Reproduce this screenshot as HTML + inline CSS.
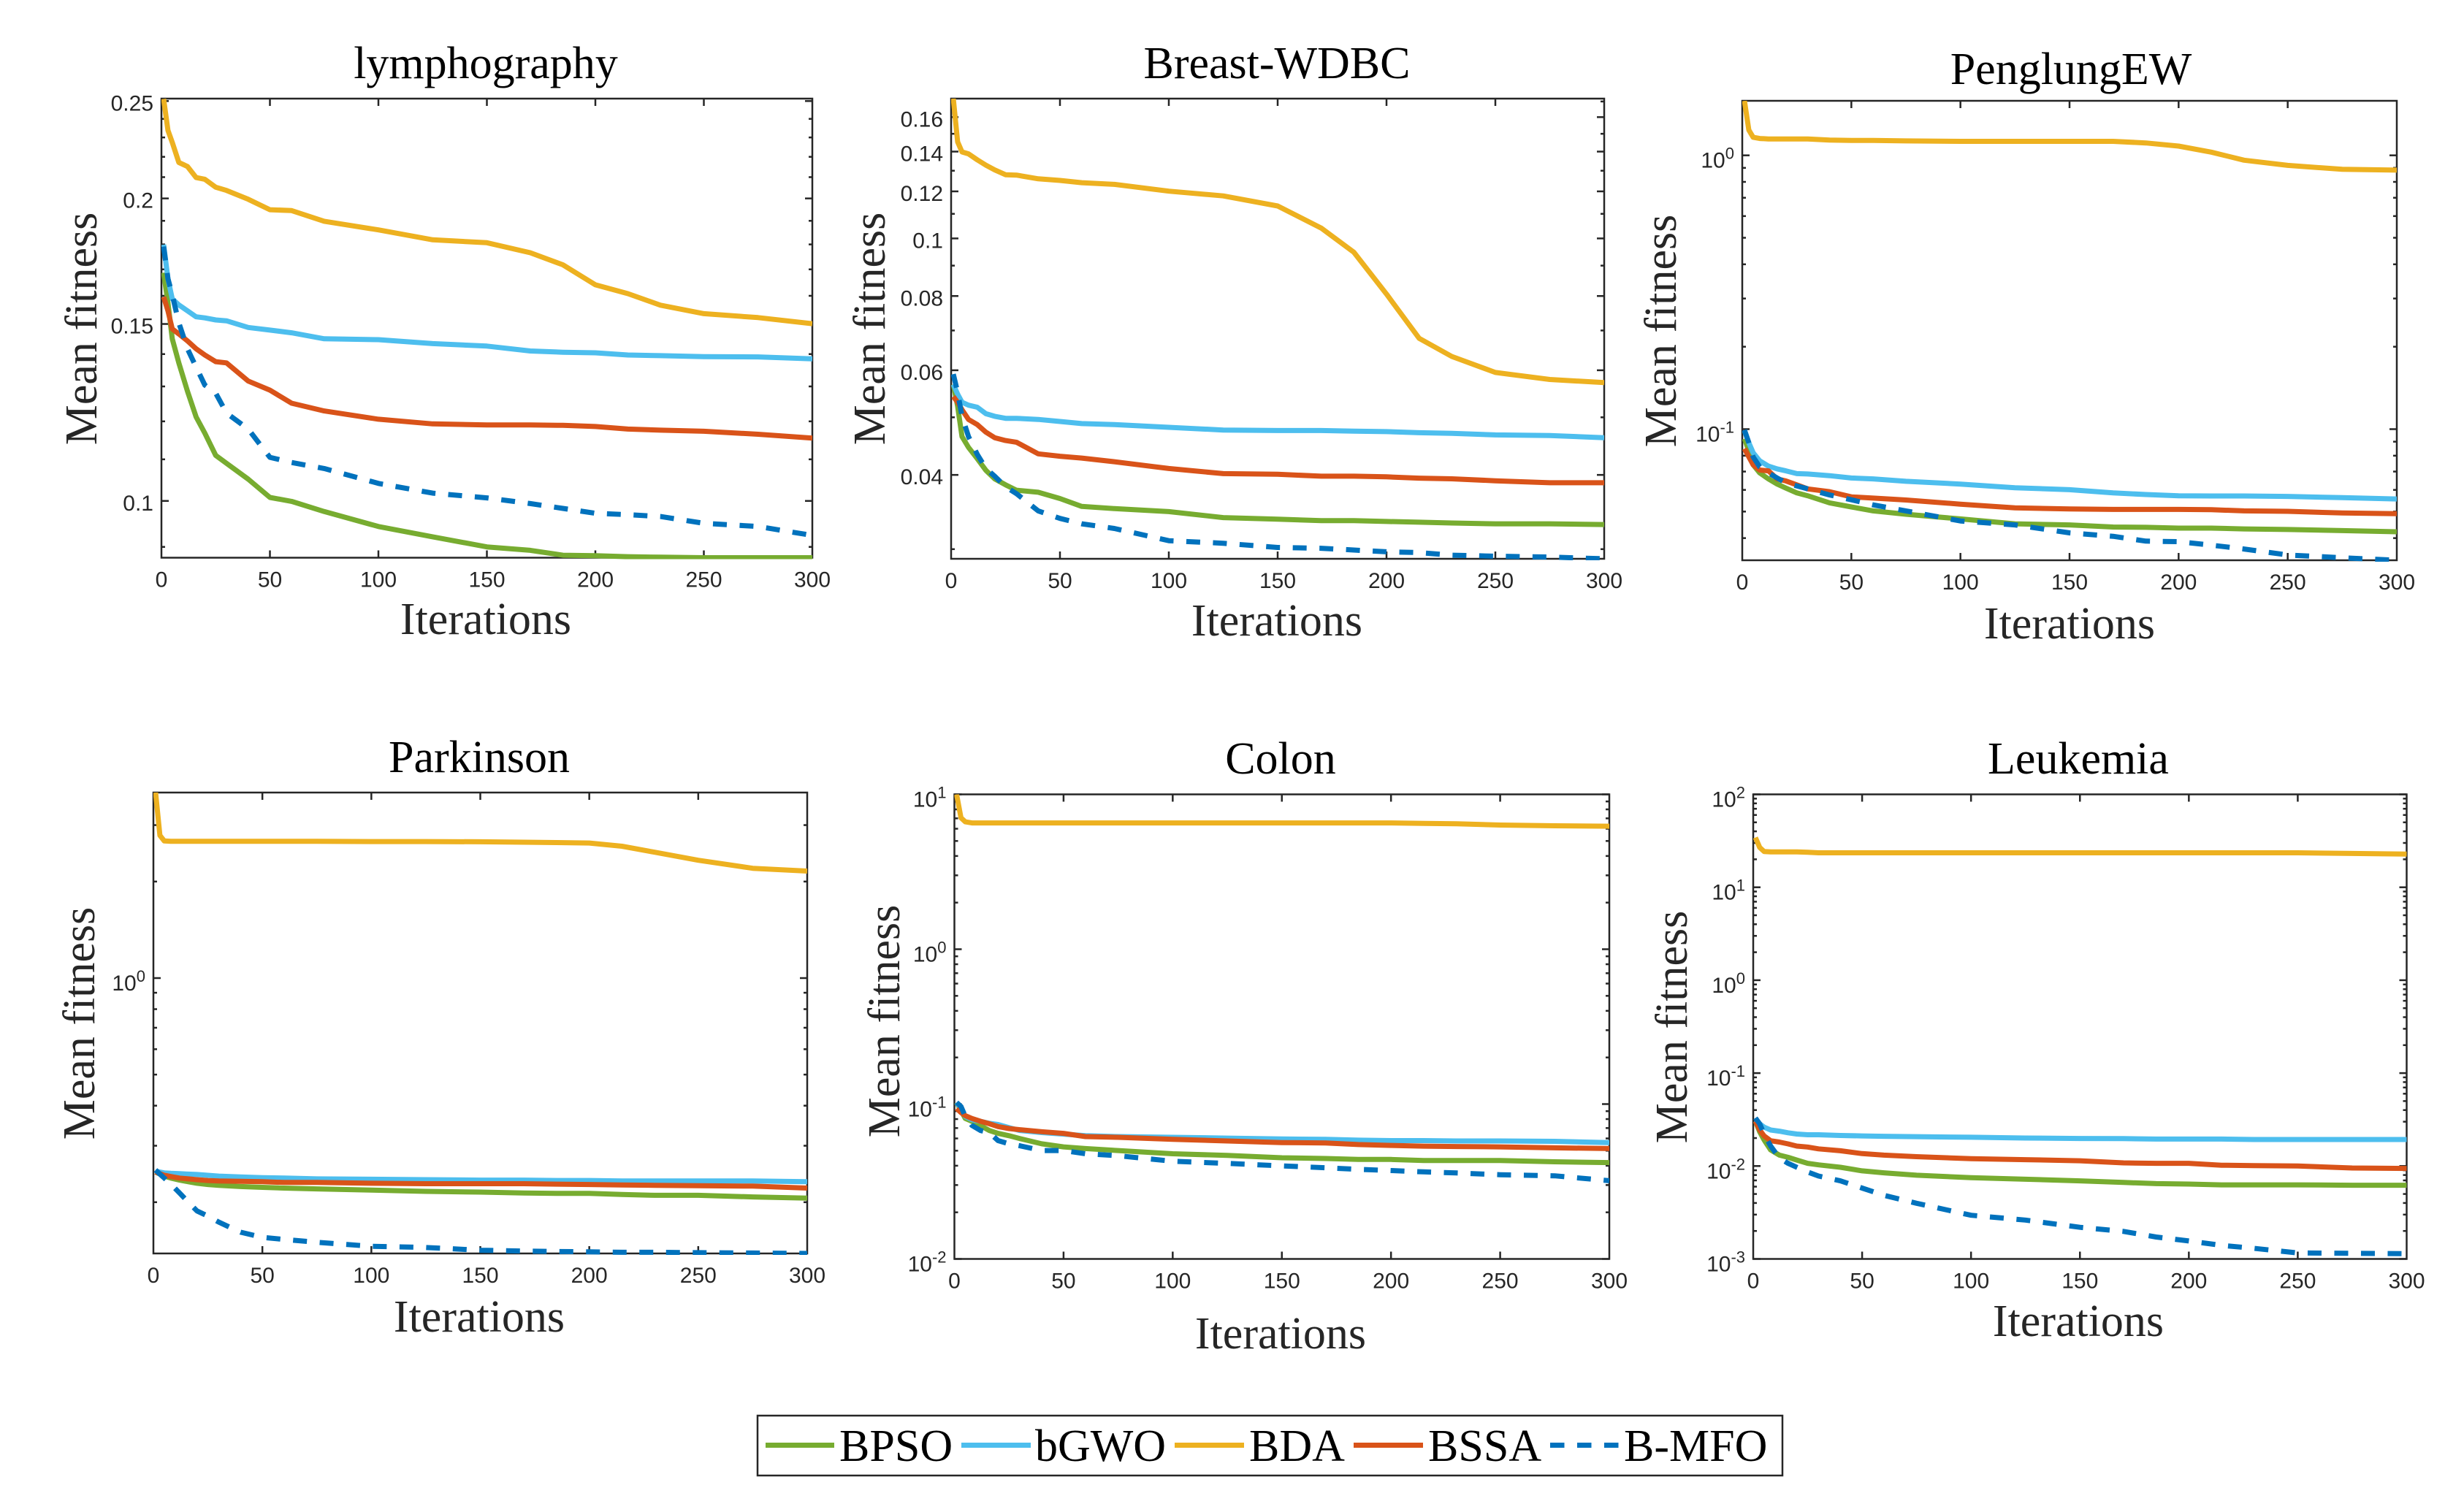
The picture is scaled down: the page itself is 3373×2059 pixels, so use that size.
<!DOCTYPE html>
<html lang="en">
<head>
<meta charset="utf-8">
<title>Mean fitness convergence curves</title>
<style>
html,body{margin:0;padding:0;background:#fff;}
svg{display:block;}
.ttl{font-family:"Liberation Serif",serif;font-size:62px;fill:#000;text-anchor:middle;}
.xl{font-family:"Liberation Serif",serif;font-size:62px;fill:#262626;text-anchor:middle;}
.yl{font-family:"Liberation Serif",serif;font-size:62px;fill:#262626;text-anchor:middle;}
.tk{font-family:"Liberation Sans",sans-serif;font-size:30px;fill:#262626;}
.lg{font-family:"Liberation Serif",serif;font-size:62px;fill:#000;}
</style>
</head>
<body>
<svg id="fig" xmlns="http://www.w3.org/2000/svg" width="3373" height="2059" viewBox="0 0 3373 2059">
<rect x="0" y="0" width="3373" height="2059" fill="#fff"/>

<g id="p-lymph">
<text class="ttl" x="665" y="107">lymphography</text>
<text class="xl" x="665" y="868">Iterations</text>
<text class="yl" transform="translate(132,450) rotate(-90)">Mean fitness</text>
</g>
<g id="p-wdbc">
<text class="ttl" x="1748" y="107">Breast-WDBC</text>
<text class="xl" x="1748" y="870">Iterations</text>
<text class="yl" transform="translate(1211,450) rotate(-90)">Mean fitness</text>
</g>
<g id="p-peng">
<text class="ttl" x="2835" y="115">PenglungEW</text>
<text class="xl" x="2833" y="874">Iterations</text>
<text class="yl" transform="translate(2294,453) rotate(-90)">Mean fitness</text>
</g>
<g id="p-park">
<text class="ttl" x="656" y="1057">Parkinson</text>
<text class="xl" x="656" y="1823">Iterations</text>
<text class="yl" transform="translate(129,1401) rotate(-90)">Mean fitness</text>
</g>
<g id="p-colon">
<text class="ttl" x="1753" y="1059">Colon</text>
<text class="xl" x="1753" y="1846">Iterations</text>
<text class="yl" transform="translate(1231,1398) rotate(-90)">Mean fitness</text>
</g>
<g id="p-leuk">
<text class="ttl" x="2845" y="1059">Leukemia</text>
<text class="xl" x="2845" y="1829">Iterations</text>
<text class="yl" transform="translate(2309,1406) rotate(-90)">Mean fitness</text>
</g>

<g id="legend">
<rect x="1037" y="1938" width="1403" height="82" fill="#fff" stroke="#262626" stroke-width="2.5"/>
<g>
<line x1="1048" x2="1142" y1="1978.5" y2="1978.5" stroke="#77AC30" stroke-width="7"/>
<text class="lg" x="1149" y="2000">BPSO</text>
</g>
<g>
<line x1="1316" x2="1411" y1="1978.5" y2="1978.5" stroke="#4DBEEE" stroke-width="7"/>
<text class="lg" x="1417" y="2000">bGWO</text>
</g>
<g>
<line x1="1608" x2="1703" y1="1978.5" y2="1978.5" stroke="#EDB120" stroke-width="7"/>
<text class="lg" x="1710" y="2000">BDA</text>
</g>
<g>
<line x1="1853" x2="1948" y1="1978.5" y2="1978.5" stroke="#D95319" stroke-width="7"/>
<text class="lg" x="1955" y="2000">BSSA</text>
</g>
<g>
<line x1="2122" x2="2216" y1="1978.5" y2="1978.5" stroke="#0072BD" stroke-width="7" stroke-dasharray="19.5 17.5"/>
<text class="lg" x="2223" y="2000">B-MFO</text>
</g>
</g>
</svg>

<script>
// ---------- shared data ----------
const iterations = [1,3,5,8,12,16,20,25,30,40,50,60,75,100,125,150,170,185,200,215,230,250,275,300];
const xTickValues = [0,50,100,150,200,250,300];
const xTickLabels = ['0','50','100','150','200','250','300'];

// ---------- lymphography ----------
const lymphBPSO = [.1687,.1575,.1450,.1372,.1286,.1212,.1168,.1110,.1090,.1051,.1008,.0999,.0976,.0943,.0921,.0900,.0893,.0883,.0882,.0880,.0879,.0878,.0878,.0878];
const lymphBGWO = [.1799,.1664,.1589,.1567,.1546,.1525,.1521,.1514,.1511,.1488,.1479,.1470,.1450,.1447,.1434,.1426,.1410,.1406,.1404,.1397,.1395,.1392,.1391,.1385];
const lymphBDA = [.2512,.2338,.2274,.2172,.2152,.2098,.2090,.2052,.2037,.1996,.1949,.1945,.1898,.1861,.1819,.1807,.1766,.1718,.1641,.1608,.1566,.1536,.1522,.1501];
const lymphBSSA = [.1596,.1546,.1483,.1466,.1443,.1417,.1397,.1376,.1372,.1316,.1289,.1251,.1229,.1206,.1193,.1190,.1190,.1189,.1186,.1179,.1176,.1173,.1165,.1155];
const lymphBMFO = [.1791,.1664,.1604,.1504,.1417,.1359,.1304,.1280,.1223,.1179,.1105,.1092,.1077,.1041,.1018,.1007,.0994,.0983,.0972,.0969,.0965,.0950,.0943,.0924];
const lymphTicks = [.1,.15,.2,.25];
const lymphTickLabels = ['0.1','0.15','0.2','0.25'];
const lymphMinor = [.09,.11,.12,.13,.14,.16,.17,.18,.19,.21,.22,.23,.24];
const lymphRange = [.0878,.2514];

// ---------- Breast-WDBC ----------
const wdbcBPSO = [.0568,.0522,.0464,.0445,.0426,.0407,.0394,.0385,.0377,.0374,.0365,.0354,.0351,.0347,.0339,.0337,.0335,.0335,.0334,.0333,.0332,.0331,.0331,.0330];
const wdbcBGWO = [.0568,.0547,.0530,.0524,.0520,.0507,.0502,.0498,.0498,.0496,.0492,.0488,.0486,.0481,.0476,.0475,.0475,.0474,.0473,.0471,.0470,.0467,.0466,.0462];
const wdbcBDA = [.1719,.1454,.1398,.1388,.1356,.1328,.1304,.1280,.1278,.1260,.1252,.1241,.1233,.1201,.1179,.1134,.1041,.0948,.0806,.0679,.0633,.0595,.0579,.0572];
const wdbcBSSA = [.0542,.0530,.0515,.0496,.0486,.0472,.0462,.0457,.0454,.0434,.0430,.0427,.0421,.0410,.0402,.0401,.0398,.0398,.0397,.0395,.0394,.0391,.0388,.0388];
const wdbcBMFO = [.0591,.0551,.0502,.0464,.0433,.0410,.0398,.0382,.0372,.0348,.0338,.0331,.0325,.0310,.0307,.0302,.0301,.0299,.0297,.0296,.0293,.0292,.0291,.0289];
const wdbcTicks = [.04,.06,.08,.1,.12,.14,.16];
const wdbcTickLabels = ['0.04','0.06','0.08','0.1','0.12','0.14','0.16'];
const wdbcMinor = [.03,.05,.07,.09,.11,.13,.15,.17];
const wdbcRange = [.0289,.1719];

// ---------- PenglungEW ----------
const pengBPSO = [.0922,.0834,.0741,.0692,.0658,.0630,.0609,.0585,.0571,.0538,.0520,.0503,.0489,.0470,.0451,.0447,.0439,.0438,.0435,.0435,.0432,.0430,.0426,.0422];
const pengBGWO = [.0987,.0892,.0820,.0766,.0733,.0716,.0704,.0688,.0686,.0676,.0663,.0658,.0645,.0630,.0611,.0601,.0585,.0577,.0571,.0570,.0570,.0568,.0562,.0556];
const pengBDA = [1.582,1.237,1.164,1.152,1.148,1.148,1.148,1.148,1.148,1.137,1.133,1.133,1.129,1.125,1.125,1.125,1.125,1.110,1.081,1.027,.960,.919,.889,.883];
const pengBSSA = [.0848,.0792,.0741,.0709,.0704,.0658,.0647,.0626,.0605,.0591,.0566,.0560,.0551,.0532,.0516,.0511,.0509,.0509,.0509,.0508,.0503,.0501,.0494,.0491];
const pengBMFO = [.0993,.0892,.0792,.0728,.0692,.0663,.0637,.0620,.0605,.0575,.0552,.0529,.0503,.0462,.0447,.0418,.0406,.0390,.0388,.0377,.0365,.0347,.0339,.0332];
const pengTicks = [.1,1];
const pengTickLabels = ['10^-1','10^0'];
const pengMinor = [.04,.05,.06,.07,.08,.09,.2,.3,.4,.5,.6,.7,.8,.9];
const pengRange = [.0332,1.582];

// ---------- Parkinson ----------
const parkBPSO = [.2483,.2447,.2412,.2378,.2344,.2317,.2291,.2271,.2258,.2238,.2225,.2213,.2200,.2181,.2162,.2150,.2137,.2131,.2131,.2113,.2101,.2101,.2077,.2059];
const parkBGWO = [.2497,.2483,.2469,.2461,.2454,.2447,.2440,.2426,.2412,.2398,.2385,.2378,.2365,.2358,.2351,.2344,.2344,.2337,.2337,.2330,.2330,.2330,.2330,.2317];
const parkBDA = [3.79,2.786,2.676,2.669,2.669,2.669,2.669,2.669,2.669,2.669,2.669,2.669,2.669,2.665,2.665,2.661,2.653,2.646,2.638,2.578,2.469,2.331,2.200,2.157];
const parkBSSA = [.2483,.2454,.2426,.2405,.2378,.2365,.2351,.2337,.2330,.2324,.2317,.2304,.2304,.2291,.2284,.2284,.2284,.2277,.2271,.2264,.2258,.2251,.2245,.2213];
const parkBMFO = [.2519,.2447,.2378,.2277,.2137,.2001,.1878,.1809,.1733,.1612,.1553,.1531,.1500,.1457,.1445,.1416,.1408,.1404,.1400,.1396,.1396,.1392,.1388,.1384];
const parkTicks = [1];
const parkTickLabels = ['10^0'];
const parkMinor = [.2,.3,.4,.5,.6,.7,.8,.9,2,3];
const parkRange = [.1384,3.79];

// ---------- Colon ----------
const colonBPSO = [.1024,.0909,.0807,.0774,.0725,.0675,.0647,.0625,.0599,.0554,.0529,.0516,.0501,.0478,.0466,.0450,.0445,.0439,.0439,.0432,.0432,.0432,.0424,.0419];
const colonBGWO = [.1024,.0936,.0831,.0793,.0774,.0751,.0738,.0704,.0675,.0655,.0640,.0625,.0617,.0610,.0603,.0595,.0592,.0585,.0581,.0581,.0578,.0578,.0575,.0564];
const colonBDA = [10,7.06,6.65,6.54,6.54,6.54,6.54,6.54,6.54,6.54,6.54,6.54,6.54,6.54,6.54,6.54,6.54,6.54,6.54,6.50,6.46,6.34,6.27,6.23];
const colonBSSA = [.0936,.0882,.0841,.0807,.0774,.0747,.0716,.0695,.0683,.0663,.0647,.0617,.0610,.0592,.0578,.0564,.0561,.0548,.0541,.0535,.0532,.0529,.0522,.0516];
const colonBMFO = [.1024,.0965,.0831,.0729,.0675,.0655,.0581,.0554,.0538,.0501,.0501,.0478,.0464,.0427,.0414,.0399,.0388,.0379,.0372,.0365,.0359,.0350,.0344,.0320];
const colonTicks = [.01,.1,1,10];
const colonTickLabels = ['10^-2','10^-1','10^0','10^1'];
const colonMinor = [.02,.03,.04,.05,.06,.07,.08,.09,.2,.3,.4,.5,.6,.7,.8,.9,2,3,4,5,6,7,8,9];
const colonRange = [.01,10];

// ---------- Leukemia ----------
const leukBPSO = [.0304,.0233,.0191,.0149,.0131,.0124,.0116,.0107,.0103,.0097,.00888,.00845,.00796,.00750,.00721,.00693,.00665,.00646,.00640,.00627,.00627,.00627,.00621,.00621];
const leukBGWO = [.0313,.0284,.0262,.0244,.0237,.0228,.0221,.0217,.0217,.0213,.0211,.0209,.0207,.0204,.0200,.0198,.0197,.0195,.0195,.0195,.0193,.0193,.0193,.0193];
const leukBDA = [34.3,26.8,24.3,24.0,24.0,24.0,24.0,23.8,23.5,23.5,23.5,23.5,23.5,23.5,23.5,23.5,23.5,23.5,23.5,23.5,23.5,23.5,23.1,22.8];
const leukBSSA = [.0304,.0244,.0211,.0187,.0181,.0173,.0164,.0160,.0153,.0146,.0136,.0131,.0126,.0120,.0117,.0114,.0108,.0107,.0107,.0102,.0101,.0100,.00952,.00942];
const leukBMFO = [.0329,.0284,.0221,.0164,.0122,.0107,.0097,.00862,.00780,.00693,.00579,.00484,.00397,.00295,.00262,.00219,.00198,.00172,.00156,.00140,.00130,.00116,.00115,.00114];
const leukTicks = [.001,.01,.1,1,10,100];
const leukTickLabels = ['10^-3','10^-2','10^-1','10^0','10^1','10^2'];
const leukMinor = [.002,.003,.004,.005,.006,.007,.008,.009,.02,.03,.04,.05,.06,.07,.08,.09,.2,.3,.4,.5,.6,.7,.8,.9,2,3,4,5,6,7,8,9,20,30,40,50,60,70,80,90];
const leukRange = [.001,100];

// ---------- rendering ----------
const SVGNS = 'http://www.w3.org/2000/svg';
const INK = '#262626';
const styles = {
  bpso: {color:'#77AC30', dash:null},
  bgwo: {color:'#4DBEEE', dash:null},
  bda:  {color:'#EDB120', dash:null},
  bssa: {color:'#D95319', dash:null},
  bmfo: {color:'#0072BD', dash:'19 17.5'}
};
const panels = [
  {id:'p-lymph', key:'lymphography', l:221, t:135, r:1112, b:763.5,  range:lymphRange, ticks:lymphTicks, labels:lymphTickLabels, minor:lymphMinor,
   series:{bpso:lymphBPSO,bgwo:lymphBGWO,bda:lymphBDA,bssa:lymphBSSA,bmfo:lymphBMFO}},
  {id:'p-wdbc', key:'breast-wdbc', l:1302, t:135, r:2196, b:765, range:wdbcRange, ticks:wdbcTicks, labels:wdbcTickLabels, minor:wdbcMinor,
   series:{bpso:wdbcBPSO,bgwo:wdbcBGWO,bda:wdbcBDA,bssa:wdbcBSSA,bmfo:wdbcBMFO}},
  {id:'p-peng', key:'penglungew', l:2385, t:138, r:3281, b:767, range:pengRange, ticks:pengTicks, labels:pengTickLabels, minor:pengMinor,
   series:{bpso:pengBPSO,bgwo:pengBGWO,bda:pengBDA,bssa:pengBSSA,bmfo:pengBMFO}},
  {id:'p-park', key:'parkinson', l:210, t:1085, r:1105, b:1716, range:parkRange, ticks:parkTicks, labels:parkTickLabels, minor:parkMinor,
   series:{bpso:parkBPSO,bgwo:parkBGWO,bda:parkBDA,bssa:parkBSSA,bmfo:parkBMFO}},
  {id:'p-colon', key:'colon', l:1306.5, t:1087.5, r:2203, b:1723.5, range:colonRange, ticks:colonTicks, labels:colonTickLabels, minor:colonMinor,
   series:{bpso:colonBPSO,bgwo:colonBGWO,bda:colonBDA,bssa:colonBSSA,bmfo:colonBMFO}},
  {id:'p-leuk', key:'leukemia', l:2400, t:1087.5, r:3294.5, b:1723.5, range:leukRange, ticks:leukTicks, labels:leukTickLabels, minor:leukMinor,
   series:{bpso:leukBPSO,bgwo:leukBGWO,bda:leukBDA,bssa:leukBSSA,bmfo:leukBMFO}}
];

function make(tag, attrs, parent){
  const el = document.createElementNS(SVGNS, tag);
  for (const k in attrs) el.setAttribute(k, attrs[k]);
  parent.appendChild(el);
  return el;
}

panels.forEach(function(p){
  const host = document.getElementById(p.id);
  const xOf = function(v){ return p.l + (v / 300) * (p.r - p.l); };
  const lo = Math.log10(p.range[0]), hi = Math.log10(p.range[1]);
  const yOf = function(v){ return p.b - ((Math.log10(v) - lo) / (hi - lo)) * (p.b - p.t); };

  const frame = make('rect', {x:p.l, y:p.t, width:p.r-p.l, height:p.b-p.t, fill:'#fff', stroke:INK, 'stroke-width':2.5}, host);
  
  

  const ticksG = make('g', {stroke:INK, 'stroke-width':2.5, fill:'none'}, host);
  
  

  xTickValues.forEach(function(v, i){
    const x = xOf(v);
    if (v > 0 && v < 300) {
      make('line', {x1:x, x2:x, y1:p.b, y2:p.b-10}, ticksG);
      make('line', {x1:x, x2:x, y1:p.t, y2:p.t+10}, ticksG);
    }
    const label = make('text', {x:x, y:p.b+40, 'text-anchor':'middle', class:'tk'}, host);
    
    
    label.textContent = xTickLabels[i];
  });

  p.minor.forEach(function(v){
    const y = yOf(v);
    make('line', {x1:p.l, x2:p.l+5, y1:y, y2:y}, ticksG);
    make('line', {x1:p.r, x2:p.r-5, y1:y, y2:y}, ticksG);
  });

  p.ticks.forEach(function(v, i){
    const y = yOf(v);
    make('line', {x1:p.l, x2:p.l+10, y1:y, y2:y}, ticksG);
    make('line', {x1:p.r, x2:p.r-10, y1:y, y2:y}, ticksG);
    const parts = p.labels[i].split('^');
    const label = make('text', {x:p.l-11, y:y+(parts.length>1?17:13), 'text-anchor':'end', class:'tk'}, host);
    
    
    label.appendChild(document.createTextNode(parts[0]));
    if (parts.length > 1) {
      const sup = make('tspan', {dy:-12, 'font-size':22}, label);
      sup.textContent = parts[1];
    }
  });

  const clipId = p.id + '-clip';
  const defs = make('defs', {}, host);
  const cp = make('clipPath', {id:clipId}, defs);
  make('rect', {x:p.l, y:p.t, width:p.r-p.l, height:p.b-p.t+2}, cp);

  const linesG = make('g', {'clip-path':'url(#' + clipId + ')', fill:'none'}, host);
  
  

  Object.keys(p.series).forEach(function(name){
    const vals = p.series[name];
    const pts = vals.map(function(v, i){ return xOf(iterations[i]).toFixed(1) + ',' + yOf(v).toFixed(1); }).join(' ');
    const line = make('polyline', {points:pts, stroke:styles[name].color, 'stroke-width':7, 'stroke-linejoin':'round'}, linesG);
    if (styles[name].dash) line.setAttribute('stroke-dasharray', styles[name].dash);
    
    
  });
});
</script>
</body>
</html>
